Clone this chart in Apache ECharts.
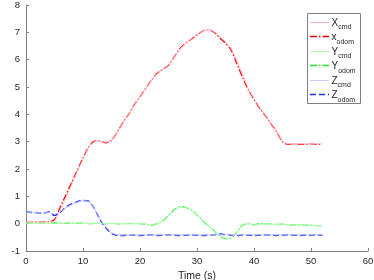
<!DOCTYPE html>
<html><head><meta charset="utf-8">
<script src="https://cdn.jsdelivr.net/npm/echarts@6/dist/echarts.min.js"></script>
<style>html,body{margin:0;padding:0;background:#fff}#c{width:374px;height:280px}</style>
</head><body><div id="c"></div>
<script>
var time = [0,1,2,3,4,5,6,7,8,9,10,11,12,13,14,15,16,17,18,19,20,21,22,23,24,25,26,27,28,29,30,31,32,33,34,35,36,37,38,39,40,41,42,43,44,45,46,47,48,49,50,51,52];
var xCmd = [0.05,0.05,0.05,0.05,0.06,0.1,0.5,0.95,1.42,1.9,2.35,2.78,3.0,3.02,2.98,3.05,3.35,3.68,4.0,4.33,4.65,4.95,5.25,5.5,5.66,5.82,6.1,6.38,6.6,6.76,6.92,7.05,7.1,7.02,6.85,6.65,6.4,5.95,5.45,4.95,4.58,4.25,3.97,3.67,3.37,3.02,2.92,2.92,2.92,2.92,2.92,2.92,2.92];
var xOdom = [0.05,0.05,0.06,0.06,0.07,0.15,0.6,1.05,1.5,1.95,2.4,2.8,3.02,3.03,2.96,3.05,3.35,3.7,4.0,4.35,4.65,4.95,5.25,5.5,5.65,5.8,6.1,6.4,6.6,6.75,6.9,7.05,7.1,7.0,6.8,6.6,6.35,5.85,5.35,4.9,4.55,4.22,3.95,3.65,3.35,3.0,2.9,2.92,2.9,2.9,2.92,2.9,2.9];
var yCmd = [0.02,0.02,0.02,0.02,0.02,0.02,0.02,0.02,0.02,0.02,0.01,0.01,0.01,0.01,0.01,0.01,0.0,0.0,0.0,0.0,0.0,-0.01,-0.04,0.0,0.1,0.28,0.48,0.6,0.6,0.5,0.33,0.13,-0.06,-0.24,-0.43,-0.53,-0.5,-0.3,-0.07,-0.01,-0.02,-0.02,-0.02,-0.03,-0.03,-0.04,-0.04,-0.05,-0.05,-0.06,-0.06,-0.07,-0.07];
var yOdom = [0.02,0.03,0.02,0.03,0.02,0.03,0.02,0.01,0.02,0.01,0.02,0.0,0.01,0.01,0.0,0.01,0.0,-0.01,0.01,0.0,0.0,-0.02,-0.06,0.0,0.1,0.3,0.5,0.62,0.6,0.5,0.32,0.12,-0.08,-0.25,-0.45,-0.55,-0.52,-0.3,-0.06,0.0,-0.04,0.0,-0.01,-0.02,-0.03,-0.02,-0.04,-0.05,-0.04,-0.06,-0.05,-0.07,-0.07];
var zCmd = [0.4,0.4,0.4,0.4,0.4,0.35,0.45,0.58,0.7,0.78,0.84,0.8,0.55,0.18,-0.12,-0.33,-0.4,-0.41,-0.41,-0.41,-0.41,-0.41,-0.41,-0.41,-0.41,-0.41,-0.41,-0.41,-0.41,-0.41,-0.41,-0.41,-0.41,-0.41,-0.41,-0.41,-0.41,-0.41,-0.41,-0.41,-0.41,-0.41,-0.41,-0.41,-0.41,-0.41,-0.41,-0.41,-0.41,-0.41,-0.41,-0.41,-0.41];
var zOdom = [0.42,0.41,0.4,0.39,0.43,0.3,0.42,0.6,0.72,0.8,0.85,0.82,0.55,0.15,-0.15,-0.35,-0.42,-0.43,-0.41,-0.42,-0.43,-0.42,-0.41,-0.43,-0.42,-0.41,-0.42,-0.43,-0.42,-0.41,-0.42,-0.43,-0.42,-0.41,-0.38,-0.4,-0.42,-0.43,-0.41,-0.42,-0.43,-0.42,-0.41,-0.42,-0.43,-0.42,-0.41,-0.42,-0.43,-0.42,-0.42,-0.41,-0.42];
var labels = [['X','cmd'],['x','odom'],['Y','cmd'],['Y','odom'],['Z','cmd'],['Z','odom']];

function pairs(v){ return time.map(function(t,i){ return [t, v[i]]; }); }
var dashDot = [7,2,1.5,2];
var defs = [
  {d:xCmd, c:'#ffb8c0', w:1, t:'solid'},
  {d:xOdom, c:'#ff0000', w:1.3, t:dashDot},
  {d:yCmd, c:'#b8ffb8', w:1, t:'solid'},
  {d:yOdom, c:'#22ee22', w:1.3, t:dashDot},
  {d:zCmd, c:'#c8c8ff', w:1, t:'solid'},
  {d:zOdom, c:'#1a2dff', w:1.5, t:[6,3]}
];
var series = defs.map(function(s,i){
  return {name: labels[i][0]+'_'+labels[i][1], type:'line', data: pairs(s.d), symbol:'none', smooth:0.3,
    lineStyle:{color:s.c, width:s.w, type:s.t}, itemStyle:{color:s.c}, z: (i%2===0)?3:2, animation:false};
});
var fnt = 'Liberation Sans, Arial, sans-serif';
// legend drawn as graphic
var lgX = 307.5, lgY = 13.5, lgW = 53, lgH = 90, rowH = 14.5, row0 = 21.5;
var g = [{type:'rect', shape:{x:lgX, y:lgY, width:lgW, height:lgH}, style:{fill:'#fff', stroke:'#808080', lineWidth:1}, z:10}];
defs.forEach(function(s,i){
  var yy = row0 + i*rowH;
  var ly = Math.round(yy) + 0.5;
  var st = {stroke:s.c, lineWidth:(s.t==='solid'?1:s.w)};
  if (s.t !== 'solid') st.lineDash = s.t;
  g.push({type:'line', shape:{x1:310, y1:ly, x2:329, y2:ly}, style:st, z:11});
  g.push({type:'text', x:331.5, y:yy-6.5, style:{rich:{a:{fontSize:10, fontFamily:fnt, fill:'#262626'}, b:{fontSize:7, fontFamily:fnt, fill:'#262626', padding:[9,0,0,0]}},
    text:'{a|'+labels[i][0]+'}{b|'+labels[i][1]+'}', fontFamily:fnt}, z:11});
});
var chart = echarts.init(document.getElementById('c'));
chart.setOption({
  animation:false,
  grid:{left:26, right:6, top:5, bottom:29, containLabel:false, outerBoundsMode:'none'},
  xAxis:{type:'value', min:0, max:60, interval:10, name:'Time (s)', nameLocation:'middle', nameGap:17,
    nameTextStyle:{fontSize:10.5, color:'#262626', fontFamily:fnt},
    axisLine:{onZero:false, lineStyle:{color:'#808080'}}, axisTick:{inside:true, length:3, lineStyle:{color:'#808080'}},
    axisLabel:{fontSize:9.5, color:'#262626', fontFamily:fnt, margin:5, showMinLabel:true, showMaxLabel:true}, splitLine:{show:false}},
  yAxis:{type:'value', min:-1, max:8, interval:1, name:'(m)', nameLocation:'middle', nameGap:17,
    nameTextStyle:{fontSize:10, color:'#262626', fontFamily:fnt},
    axisLine:{show:true, onZero:false, lineStyle:{color:'#808080'}}, axisTick:{show:true, inside:true, length:3, lineStyle:{color:'#808080'}},
    axisLabel:{fontSize:9.5, color:'#262626', fontFamily:fnt, margin:6, showMinLabel:true, showMaxLabel:true}, splitLine:{show:false}},
  graphic: g,
  series: series
});
</script></body></html>
